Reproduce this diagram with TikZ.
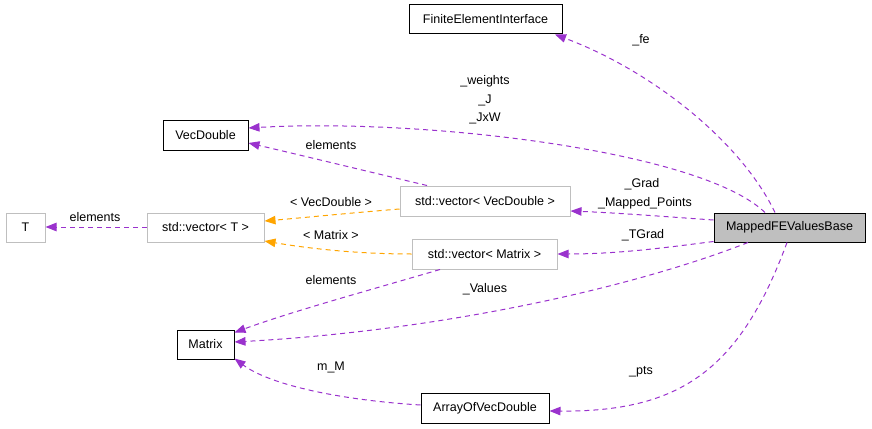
\documentclass[tikz,border=0pt]{standalone}
\usepackage{fontspec}
\setmainfont{Liberation Sans}
\usetikzlibrary{arrows.meta}
\definecolor{edgepurple}{HTML}{9A32CD}
\definecolor{edgeorange}{HTML}{FFA500}
\definecolor{boxgray}{HTML}{BFBFBF}
\tikzset{
  cls/.style={draw=black, line width=1pt, inner sep=0pt, font=\fontsize{12.5}{15}\selectfont},
  tpl/.style={draw=boxgray, line width=1pt, inner sep=0pt, font=\fontsize{12.5}{15}\selectfont},
  lbl/.style={inner sep=0pt, font=\fontsize{12.5}{15}\selectfont},
  uses/.style={draw=edgepurple, line width=1pt, dash pattern=on 5pt off 4pt, -{Triangle[length=11pt,width=8.5pt]}, fill=none},
  inst/.style={draw=edgeorange, line width=1pt, dash pattern=on 5pt off 4pt, -{Triangle[length=11pt,width=8.5pt]}, fill=none},
}
\begin{document}
\begin{tikzpicture}[x=1pt,y=-1pt]
\useasboundingbox (0,0) rectangle (872,428);
% nodes
\node[cls, minimum width=153pt, minimum height=29pt] (fei) at (485.5,19.5) {FiniteElementInterface};
\node[cls, minimum width=85pt, minimum height=30pt] (vd) at (205.5,135) {VecDouble};
\node[tpl, minimum width=39pt, minimum height=29pt] (T) at (25.5,227.5) {T};
\node[tpl, minimum width=117pt, minimum height=29pt] (vT) at (205.5,227.5) {std::vector< T >};
\node[tpl, minimum width=170pt, minimum height=30pt] (vvd) at (485,201) {std::vector< VecDouble >};
\node[tpl, minimum width=145pt, minimum height=30pt] (vm) at (484.5,254) {std::vector< Matrix >};
\node[cls, fill=boxgray, minimum width=151pt, minimum height=29pt] (mfe) at (789.5,227.5) {MappedFEValuesBase};
\node[cls, minimum width=57pt, minimum height=29pt] (mx) at (205.5,344.5) {Matrix};
\node[cls, minimum width=128pt, minimum height=30pt] (avd) at (485,408) {ArrayOfVecDouble};
% edges
\draw[uses] ([xshift=-14.5pt]mfe.north) .. controls (740,140) and (650,70) .. ([xshift=69.5pt]fei.south);
\draw[uses] ([xshift=-24.5pt]mfe.north) .. controls (700,150) and (420,118) .. ([yshift=7pt]vd.east);
\draw[uses] ([xshift=-58pt]vvd.north) .. controls (370,172) and (300,155) .. ([yshift=-8pt]vd.east);
\draw[inst] ([yshift=-8pt]vvd.west) .. controls (350,213) and (300,218) .. ([yshift=6.5pt]vT.east);
\draw[inst] (vm.west) .. controls (350,254) and (300,247) .. ([yshift=-13.5pt]vT.east);
\draw[uses] ([yshift=0.5pt]vT.west) -- ([yshift=0.5pt]T.east);
\draw[uses] ([yshift=7.5pt]mfe.west) .. controls (670,217) and (620,213) .. ([yshift=-10pt]vvd.east);
\draw[uses] ([yshift=-14pt]mfe.west) .. controls (670,247) and (620,254) .. (vm.east);
\draw[uses] ([xshift=-44.5pt]vm.south) .. controls (370,290) and (290,312) .. ([yshift=-3pt]mx.north east);
\draw[uses] ([xshift=-41.5pt]mfe.south) .. controls (640,285) and (450,330) .. ([yshift=2.5pt]mx.east);
\draw[uses] ([xshift=-2.5pt]mfe.south) .. controls (740,370) and (680,412) .. ([yshift=-3pt]avd.east);
\draw[uses] ([yshift=3pt]avd.west) .. controls (340,400) and (270,385) .. ([yshift=1pt]mx.south east);
% labels
\node[lbl] (l1) at (641,40) {\_fe};
\node[lbl] (l2) at (485,81) {\_weights};
\node[lbl] (l3) at (485,100) {\_J};
\node[lbl] (l4) at (485,118) {\_JxW};
\node[lbl] (l5) at (331,145) {elements};
\node[lbl] (l6) at (331,202) {< VecDouble >};
\node[lbl] (l7) at (331,235) {< Matrix >};
\node[lbl] (l8) at (95,217) {elements};
\node[lbl] (l9) at (642,184) {\_Grad};
\node[lbl] (l10) at (645,203) {\_Mapped\_Points};
\node[lbl] (l11) at (643,235) {\_TGrad};
\node[lbl] (l12) at (331,280) {elements};
\node[lbl] (l13) at (485,289) {\_Values};
\node[lbl] (l14) at (331,367) {m\_M};
\node[lbl] (l15) at (641,372) {\_pts};
\end{tikzpicture}
\end{document}
